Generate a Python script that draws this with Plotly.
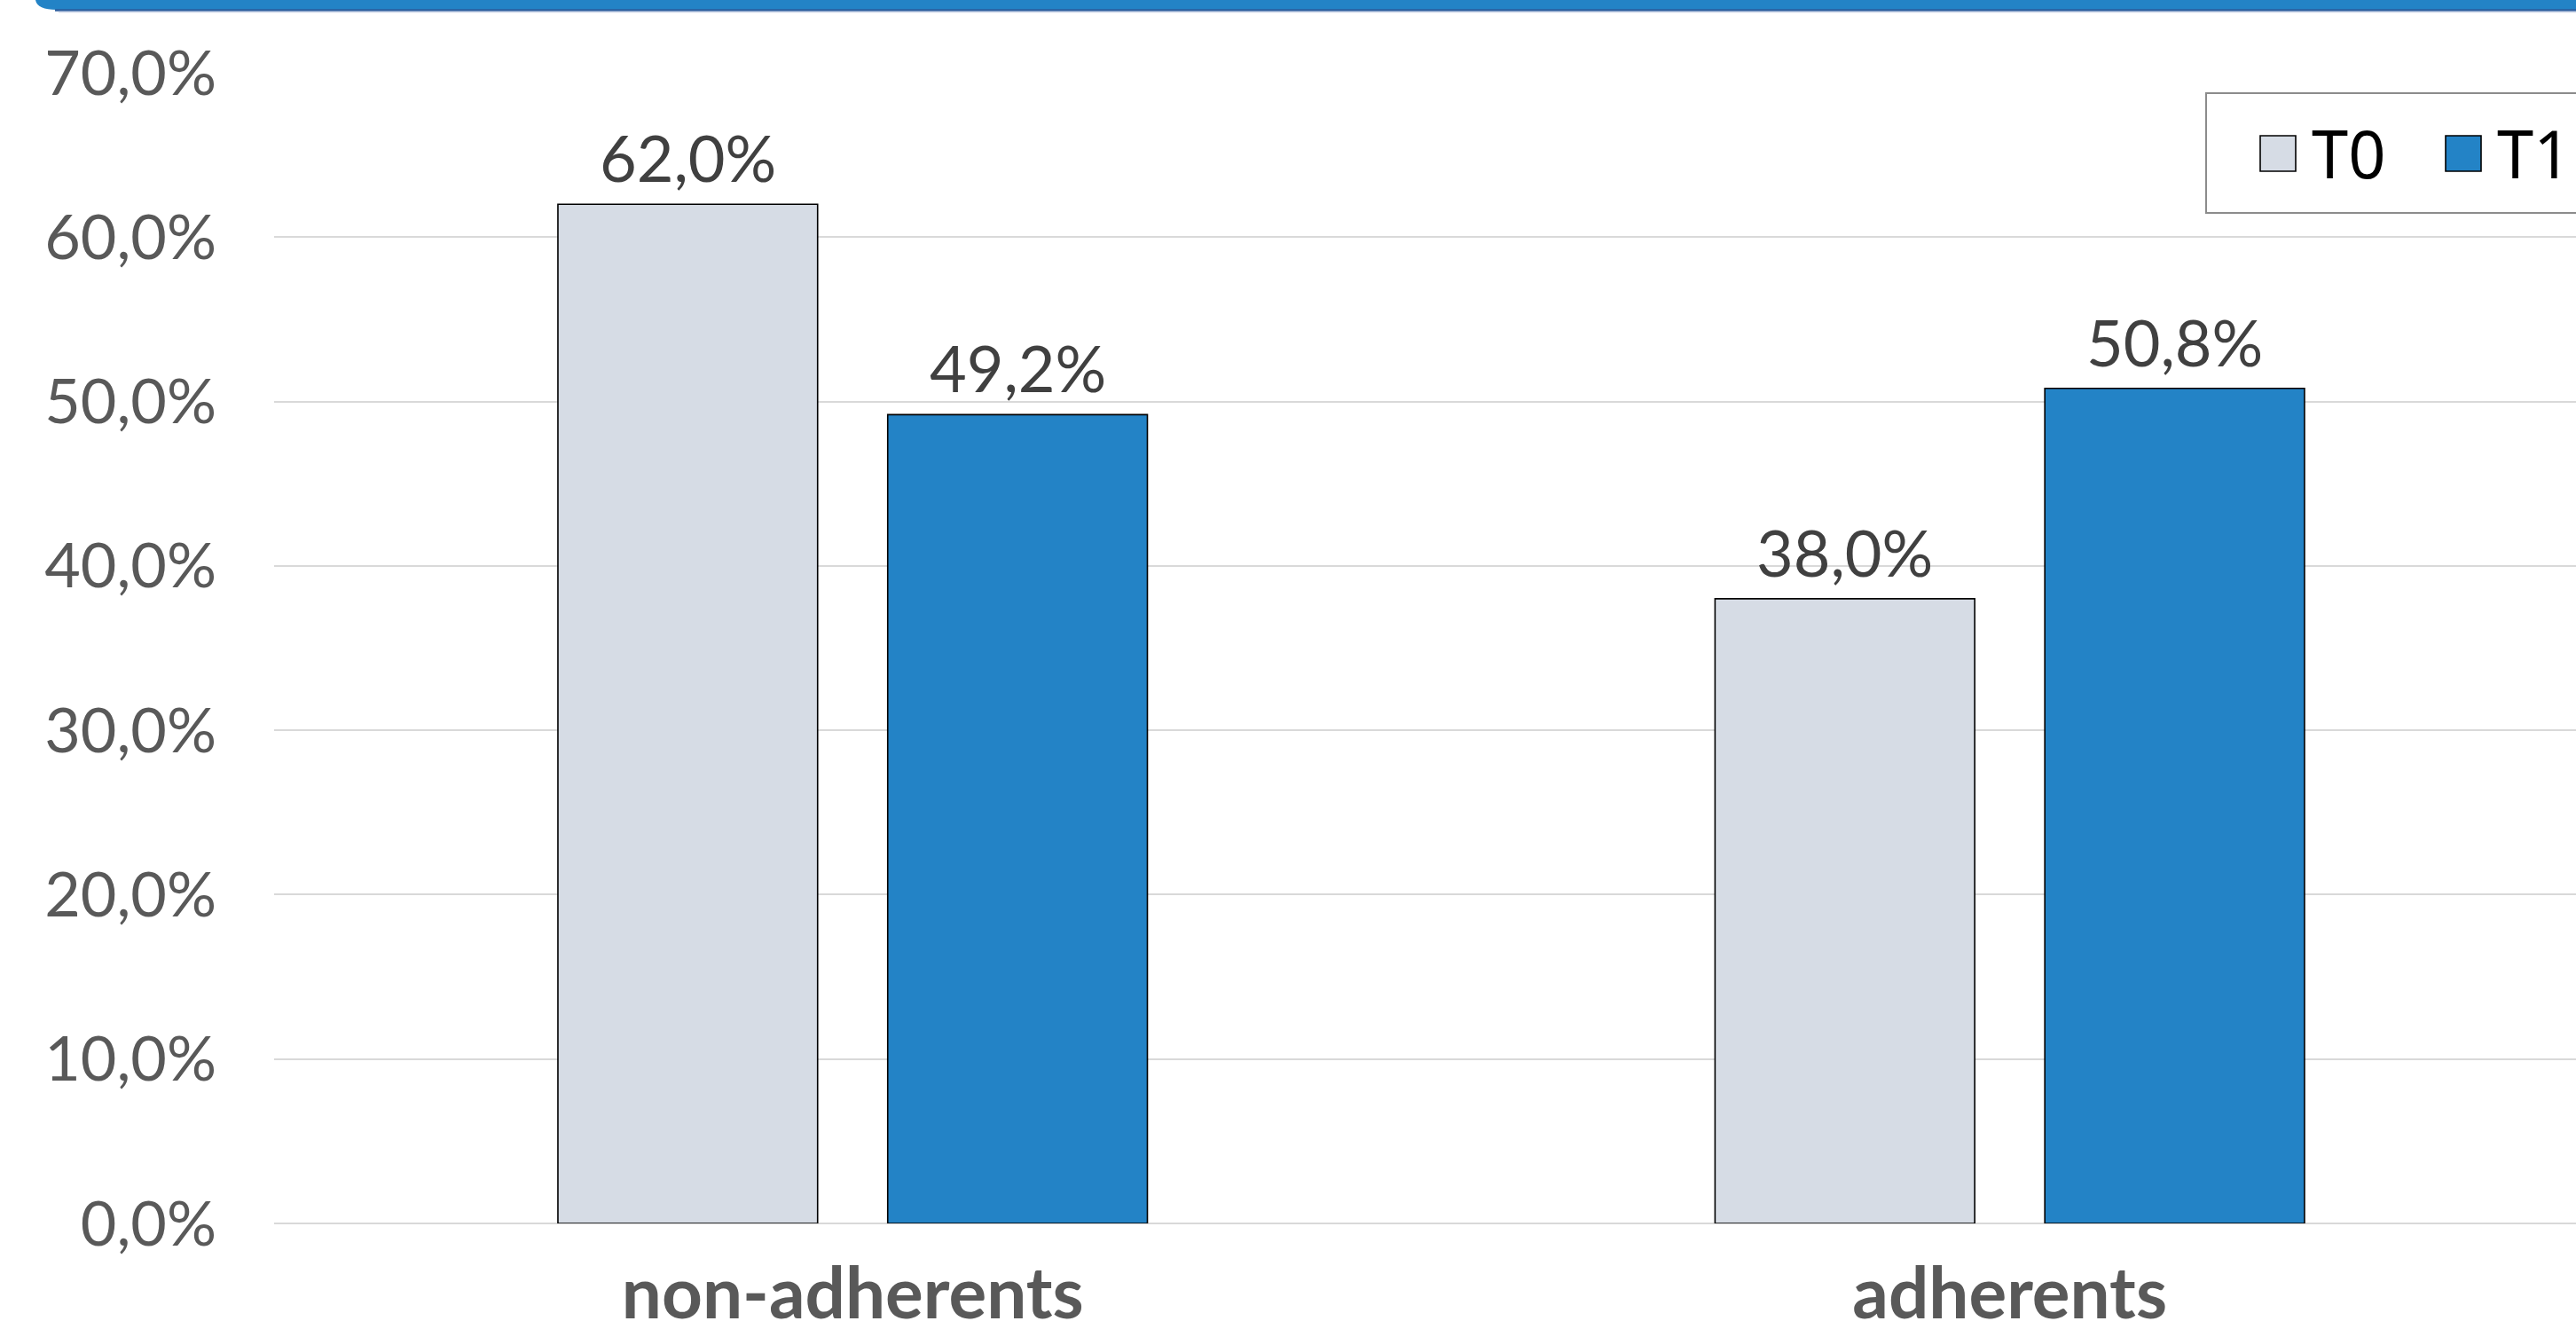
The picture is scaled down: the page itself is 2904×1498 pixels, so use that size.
import plotly.graph_objects as go

# ---------------- data ----------------
categories = ["non-adherents", "adherents"]
series_names = ["T0", "T1"]
t0_values = [62.0, 38.0]
t1_values = [49.2, 50.8]
y_ticks = [0, 10, 20, 30, 40, 50, 60, 70]

# ---------------- style ----------------
W, H = 2904, 1498
ML, MR, MT, MB = 309, 0, 82, 119
colors = {"T0": "#D6DCE5", "T1": "#2383C6"}
BARGAP = 0.43
BARGROUPGAP = 0.2125
TICK_FONT = "Lato, 'Noto Sans', sans-serif"

PW = W - ML - MR
PH = H - MT - MB


def px_x(px):
    return (px - ML) / PW


def px_y(py):
    return (H - MB - py) / PH


def fmt(v):
    return f"{v:.1f}%".replace(".", ",")


fig = go.Figure()
for name, vals in zip(series_names, [t0_values, t1_values]):
    fig.add_trace(go.Bar(
        x=categories, y=vals, name=name,
        marker=dict(color=colors[name], line=dict(color="#000000", width=1.6)),
        showlegend=False,
    ))

# data labels above bars (positioned via the axis scales)
slot = (1 - BARGAP) / len(series_names)
annotations = []
for si, (name, vals) in enumerate(zip(series_names, [t0_values, t1_values])):
    off = -(1 - BARGAP) / 2 + slot * (si + 0.5)
    for ci, v in enumerate(vals):
        annotations.append(dict(
            x=ci + off, y=v, xref="x", yref="y", text=fmt(v),
            showarrow=False, yanchor="bottom", xanchor="center", yshift=8,
            font=dict(family=TICK_FONT, size=72, color="#404040"),
        ))

# manual legend
leg_font = dict(family="'Noto Sans', Lato, sans-serif", size=74, color="#000000")
shapes = []
shapes.append(dict(type="rect", xref="paper", yref="paper",
                   x0=px_x(2487), x1=px_x(2915), y0=px_y(240), y1=px_y(105),
                   line=dict(color="#8C8C8C", width=2), fillcolor="white", layer="above"))
for name, x0, tx in [("T0", 2548, 2604), ("T1", 2757, 2813)]:
    shapes.append(dict(type="rect", xref="paper", yref="paper",
                       x0=px_x(x0), x1=px_x(x0 + 40), y0=px_y(193), y1=px_y(153),
                       line=dict(color="#000000", width=1.6), fillcolor=colors[name],
                       layer="above"))
    annotations.append(dict(x=px_x(tx), y=px_y(172), xref="paper", yref="paper",
                            text=name, showarrow=False, xanchor="left", yanchor="middle",
                            font=leg_font))

# header band at top
hy0, hy1 = px_y(-6), px_y(11)
shapes.append(dict(
    type="path", xref="paper", yref="paper",
    path=(f"M {px_x(40)},{hy0} L {px_x(2915)},{hy0} L {px_x(2915)},{hy1} "
          f"L {px_x(64)},{hy1} Q {px_x(42)},{hy1} {px_x(40)},{px_y(0)} Z"),
    fillcolor="#2383C6", line=dict(width=0), layer="above"))
shapes.append(dict(type="line", xref="paper", yref="paper",
                   x0=px_x(62), x1=px_x(2915), y0=px_y(11.5), y1=px_y(11.5),
                   line=dict(color="#2D5E9E", width=2.5), layer="above"))
shapes.append(dict(type="line", xref="paper", yref="paper",
                   x0=px_x(66), x1=px_x(2915), y0=px_y(13.5), y1=px_y(13.5),
                   line=dict(color="#C9D3E6", width=1.5), layer="above"))

fig.update_layout(
    width=W, height=H,
    margin=dict(l=ML, r=MR, t=MT, b=MB, pad=0, autoexpand=False),
    paper_bgcolor="white", plot_bgcolor="white",
    barmode="group", bargap=BARGAP, bargroupgap=BARGROUPGAP,
    showlegend=False,
    annotations=annotations,
    shapes=shapes,
    xaxis=dict(
        range=[-0.5, (W - MR - 961.3) / 1304.4],
        showgrid=False, zeroline=False, showline=False, ticks="",
        automargin=False,
        tickfont=dict(family=TICK_FONT, size=80, color="#595959", weight="bold"),
        ticklabelstandoff=26,
    ),
    yaxis=dict(
        range=[0, 70], tickvals=y_ticks, ticktext=[fmt(v) for v in y_ticks],
        showgrid=True, gridcolor="#D9D9D9", gridwidth=2,
        zeroline=True, zerolinecolor="#D9D9D9", zerolinewidth=2,
        showline=False, ticks="", automargin=False,
        tickfont=dict(family=TICK_FONT, size=70, color="#595959"),
        ticklabelstandoff=64,
    ),
)

fig.write_html("out.html")
